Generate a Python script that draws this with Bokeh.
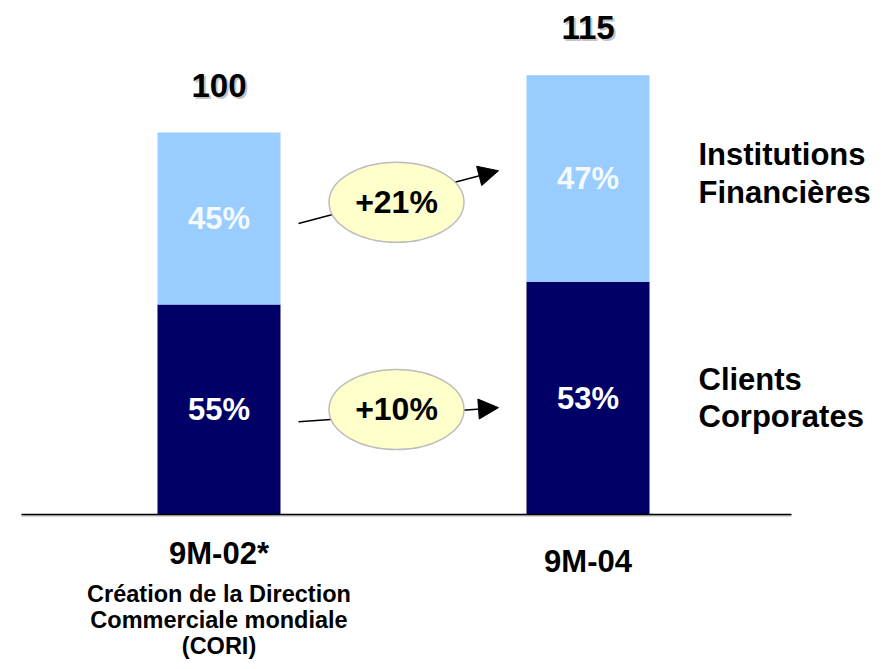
from bokeh.plotting import figure
from bokeh.models import Arrow, NormalHead, ColumnDataSource
from bokeh.core.properties import value
from bokeh.embed import file_html
from bokeh.resources import INLINE

# ---- data ----
categories = ["9M-02*", "9M-04"]
totals = [100, 115]
share_corporates = [55, 53]      # % of total
share_institutions = [45, 47]    # % of total
growth_institutions = "+21%"
growth_corporates = "+10%"
series_names = ["Institutions\nFinancières", "Clients\nCorporates"]
note_lines = ["Création de la Direction", "Commerciale mondiale", "(CORI)"]

# ---- derived ----
xs = [1, 2]
corp = [t * s / 100 for t, s in zip(totals, share_corporates)]
inst = [t - c for t, c in zip(totals, corp)]
corp_mid = [c / 2 for c in corp]
inst_mid = [c + i / 2 for c, i in zip(corp, inst)]

NAVY = "#000066"
LIGHT = "#99CCFF"
FONT = value("Liberation Sans")

W, H = 880, 660
PX = 369.0     # px per category unit
PY = 3.82      # px per value unit
x0 = 1 - 218.5 / PX
y_top = 514 / PY
y_bot = -(H - 514) / PY

p = figure(width=W, height=H, output_backend="svg", toolbar_location=None,
           x_range=(x0, x0 + W / PX), y_range=(y_bot, y_top),
           min_border=0, outline_line_color=None)
p.axis.visible = False
p.grid.visible = False
p.background_fill_color = "white"
p.border_fill_color = "white"

def xpx(px):
    return x0 + px / PX

bw = 123 / PX
src = ColumnDataSource(dict(x=xs, corp=corp, total=totals))
p.vbar(x="x", bottom=0, top="corp", width=bw, source=src,
       fill_color=NAVY, line_color=None)
p.vbar(x="x", bottom="corp", top="total", width=bw, source=src,
       fill_color=LIGHT, line_color=None)

# baseline with soft shadow
p.segment(x0=[xpx(21)], y0=[-0.35], x1=[xpx(791)], y1=[-0.35],
          line_color="#cccccc", line_width=2)
p.segment(x0=[xpx(21)], y0=[0], x1=[xpx(791)], y1=[0],
          line_color="black", line_width=1.5)

# totals with shadow
tot_y = [t + 12.4 for t in totals]
tot_txt = [str(t) for t in totals]
p.text(x=xs, y=tot_y, text=tot_txt, x_offset=2, y_offset=2,
       text_color="#c4c4c4", text_font=FONT, text_font_style="bold",
       text_font_size="33px", text_align="center", text_baseline="middle")
p.text(x=xs, y=tot_y, text=tot_txt,
       text_color="black", text_font=FONT, text_font_style="bold",
       text_font_size="33px", text_align="center", text_baseline="middle")

# percentage labels
p.text(x=xs, y=corp_mid, text=[f"{s}%" for s in share_corporates],
       text_color="white", text_font=FONT, text_font_style="bold",
       text_font_size="31px", text_align="center", text_baseline="middle")
p.text(x=xs, y=inst_mid, text=[f"{s}%" for s in share_institutions],
       text_color="#f4faff", text_font=FONT, text_font_style="bold",
       text_font_size="31px", text_align="center", text_baseline="middle")

# growth arrows (drawn underneath the ellipses)
xa0 = xpx(298)
xa1 = xpx(498)
arrow_y = [(inst_mid[0] - 1.3, inst_mid[1] + 2.0),
           (corp_mid[0] - 3.2, corp_mid[1] - 2.5)]
for ys, ye in arrow_y:
    p.add_layout(Arrow(end=NormalHead(size=20, fill_color="black", line_color="black"),
                       x_start=xa0, y_start=ys, x_end=xa1, y_end=ye,
                       line_color="black", line_width=1.5, level="underlay"))

ex = xpx(396)
ell_y = [(inst_mid[0] + inst_mid[1]) / 2 - 1.0, (corp_mid[0] + corp_mid[1]) / 2 - 1.5]
p.ellipse(x=[ex, ex], y=ell_y, width=135, height=80,
          width_units="screen", height_units="screen",
          fill_color="#FFFFCC", line_color="#bdbdbd", line_width=1.5)
p.text(x=[ex, ex], y=ell_y, text=[growth_institutions, growth_corporates],
       text_color="black", text_font=FONT, text_font_style="bold",
       text_font_size="32px", text_align="center", text_baseline="middle")

# series names on the right
lx = xpx(698)
for name, mid in zip(series_names, [inst_mid[1] + 1.3, corp_mid[1]]):
    lines = name.split("\n")
    p.text(x=[lx, lx], y=[mid + 4.9, mid - 4.9], text=lines,
           text_color="black", text_font=FONT, text_font_style="bold",
           text_font_size="31px", text_align="left", text_baseline="middle")

# category labels
p.text(x=xs, y=[-10.2, -12.2], text=categories,
       text_color="black", text_font=FONT, text_font_style="bold",
       text_font_size="31px", text_align="center", text_baseline="middle")

# note under first category
p.text(x=[xs[0]] * 3, y=[-20.7 - 6.9 * i for i in range(3)], text=note_lines,
       text_color="black", text_font=FONT, text_font_style="bold",
       text_font_size="23.5px", text_align="center", text_baseline="middle")

open("out.html", "w").write(file_html(p, INLINE))
